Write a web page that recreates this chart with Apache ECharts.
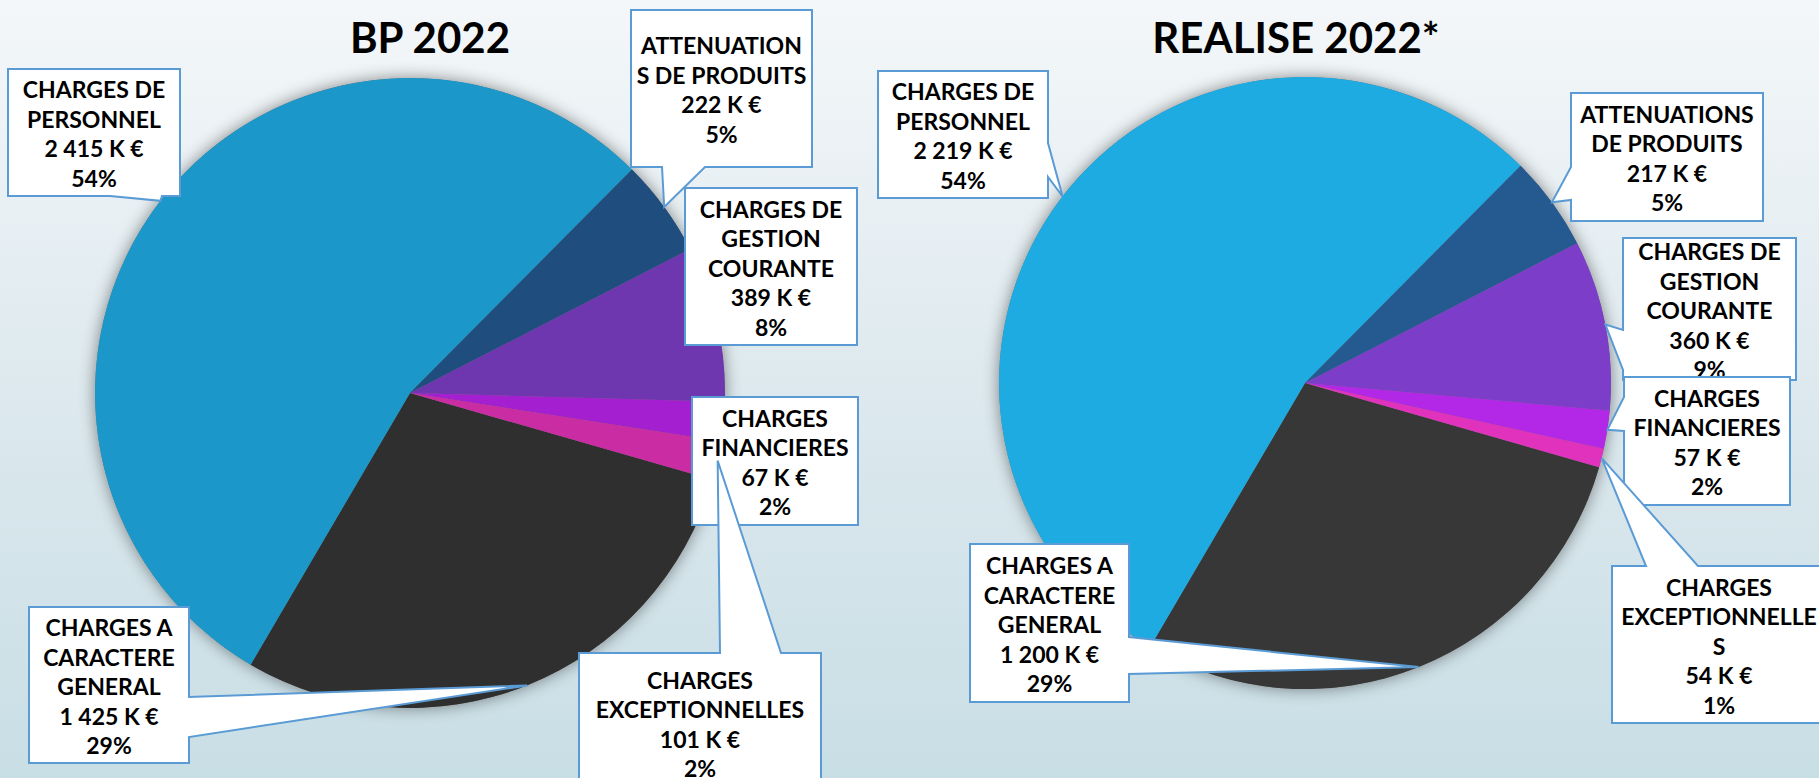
<!DOCTYPE html>
<html>
<head>
<meta charset="utf-8">
<script src="https://cdn.jsdelivr.net/npm/echarts@6/dist/echarts.min.js"></script>
<style>
  html, body { margin: 0; padding: 0; }
  #main { width: 1819px; height: 778px; }
</style>
</head>
<body>
<div id="main"></div>
<script>
// data, in the order of the pie slices (clockwise, first slice = charges a caractere general)
const categories = [
  'CHARGES A CARACTERE GENERAL',
  'CHARGES DE PERSONNEL',
  'ATTENUATIONS DE PRODUITS',
  'CHARGES DE GESTION COURANTE',
  'CHARGES FINANCIERES',
  'CHARGES EXCEPTIONNELLES'
]
// wrapped names as they appear in each callout
const bpNames = ['CHARGES A\nCARACTERE\nGENERAL', 'CHARGES DE\nPERSONNEL', 'ATTENUATION\nS DE PRODUITS',
  'CHARGES DE\nGESTION\nCOURANTE', 'CHARGES\nFINANCIERES', 'CHARGES\nEXCEPTIONNELLES']
const realNames = ['CHARGES A\nCARACTERE\nGENERAL', 'CHARGES DE\nPERSONNEL', 'ATTENUATIONS\nDE PRODUITS',
  'CHARGES DE\nGESTION\nCOURANTE', 'CHARGES\nFINANCIERES', 'CHARGES\nEXCEPTIONNELLE\nS']

const bpAmounts = [1425, 2415, 222, 389, 67, 101]   // K €
const bpPercent = [29, 54, 5, 8, 2, 2]
const realAmounts = [1200, 2219, 217, 360, 57, 54]  // K €
const realPercent = [29, 54, 5, 9, 2, 1]

const titles = ['BP 2022', 'REALISE 2022*']

const bpColors = ['#2f2f2f', '#1b98c9', '#1f4e7e', '#6e37b0', '#a31fcf', '#c92ca3']
const realColors = ['#373737', '#1eabe2', '#255a91', '#7c3ec9', '#b327e6', '#e132be']

// callout boxes: [x, y, w, h], pointer on one edge between from/to
const bpBoxes = [
  { box: [29, 607, 160, 156], ptr: { edge: 'right', from: 697, to: 737 } },
  { box: [8, 69, 172, 127], ptr: { edge: 'bottom', from: 110, to: 162 } },
  { box: [631, 10, 181, 157], ptr: { edge: 'bottom', from: 662, to: 705 } },
  { box: [685, 188, 172, 157], ptr: null },
  { box: [692, 397, 166, 128], ptr: null },
  { box: [579, 653, 242, 140], ptr: { edge: 'top', from: 720, to: 781 } }
]
const realBoxes = [
  { box: [970, 544, 159, 158], ptr: { edge: 'right', from: 637, to: 674 } },
  { box: [878, 71, 170, 127], ptr: { edge: 'right', from: 143, to: 177 } },
  { box: [1571, 93, 192, 128], ptr: { edge: 'left', from: 167, to: 200 } },
  { box: [1623, 238, 173, 142], ptr: { edge: 'left', from: 330, to: 370 } },
  { box: [1624, 377, 166, 128], ptr: { edge: 'left', from: 397, to: 431 } },
  { box: [1612, 566, 214, 157], ptr: { edge: 'top', from: 1646, to: 1698 } }
]

const LABEL_FONT = 'bold 23px Lato, "Open Sans", sans-serif'
const BORDER = '#5b9bd5'

const chart = echarts.init(document.getElementById('main'), null, { renderer: 'svg' })

function fmt(n) {
  return String(n).replace(/\B(?=(\d{3})+(?!\d))/g, ' ')
}

function shadowSeries(center, radius) {
  return {
    type: 'pie',
    center: center,
    radius: radius,
    silent: true,
    z: 1,
    label: { show: false },
    labelLine: { show: false },
    itemStyle: { color: '#777', shadowBlur: 16, shadowColor: 'rgba(0,0,0,0.45)' },
    data: [1]
  }
}

function pieSeries(center, radius, shares, colors) {
  return {
    type: 'pie',
    center: center,
    radius: radius,
    startAngle: -16,
    clockwise: true,
    z: 2,
    avoidLabelOverlap: false,
    label: { show: false },
    labelLine: { show: false },
    emphasis: { disabled: true },
    data: shares.map((v, i) => ({
      name: categories[i],
      value: v,
      itemStyle: { color: colors[i] }
    }))
  }
}

chart.setOption({
  animation: false,
  backgroundColor: new echarts.graphic.LinearGradient(0, 0, 0, 1, [
    { offset: 0, color: '#f4f7f9' },
    { offset: 0.5, color: '#dde9ee' },
    { offset: 1, color: '#c8dee5' }
  ]),
  series: [
    shadowSeries([410, 393], 315),
    pieSeries([410, 393], 315, bpPercent, bpColors),
    shadowSeries([1305, 383], 306),
    pieSeries([1305, 383], 306, realPercent, realColors)
  ]
})

// middle of a slice, on the pie edge, from the library's own layout
function sliceTip(seriesIndex, idx) {
  const data = chart.getModel().getSeriesByIndex(seriesIndex).getData()
  const l = data.getItemLayout(idx)
  const mid = (l.startAngle + l.endAngle) / 2
  return [l.cx + l.r * Math.cos(mid), l.cy + l.r * Math.sin(mid)]
}

function outline(b, ptr, tip) {
  const [x, y, w, h] = b
  const pts = [[x, y]]
  if (ptr && ptr.edge === 'top') pts.push([ptr.from, y], tip, [ptr.to, y])
  pts.push([x + w, y])
  if (ptr && ptr.edge === 'right') pts.push([x + w, ptr.from], tip, [x + w, ptr.to])
  pts.push([x + w, y + h])
  if (ptr && ptr.edge === 'bottom') pts.push([ptr.to, y + h], tip, [ptr.from, y + h])
  pts.push([x, y + h])
  if (ptr && ptr.edge === 'left') pts.push([x, ptr.to], tip, [x, ptr.from])
  return pts
}

function callouts(seriesIndex, boxes, names, amounts, percents, zStart) {
  const els = []
  boxes.forEach((c, i) => {
    const tip = c.ptr ? sliceTip(seriesIndex, i) : null
    els.push({
      type: 'polygon',
      z: 10,
      z2: zStart + i * 2,
      shape: { points: outline(c.box, c.ptr, tip) },
      style: { fill: '#fff', stroke: BORDER, lineWidth: 2 }
    })
    els.push({
      type: 'text',
      z: 10,
      z2: zStart + i * 2 + 1,
      style: {
        text: names[i] + '\n' + fmt(amounts[i]) + ' K €\n' + percents[i] + '%',
        x: c.box[0] + c.box[2] / 2,
        y: c.box[1] + c.box[3] / 2 + 1,
        align: 'center',
        verticalAlign: 'middle',
        font: LABEL_FONT,
        lineHeight: 29.5,
        fill: '#000'
      }
    })
  })
  return els
}

const graphics = [
  {
    type: 'text', z: 10,
    style: { text: titles[0], x: 430, y: 37, align: 'center', verticalAlign: 'middle',
      font: 'bold 42px Lato, sans-serif', fill: '#000' }
  },
  {
    type: 'text', z: 10,
    style: { text: titles[1], x: 1296, y: 37, align: 'center', verticalAlign: 'middle',
      font: 'bold 42px Lato, sans-serif', fill: '#000' }
  }
].concat(
  callouts(1, bpBoxes, bpNames, bpAmounts, bpPercent, 0),
  callouts(3, realBoxes, realNames, realAmounts, realPercent, 0)
)

chart.setOption({ graphic: graphics })

window.addEventListener('resize', () => chart.resize())
</script>
</body>
</html>
